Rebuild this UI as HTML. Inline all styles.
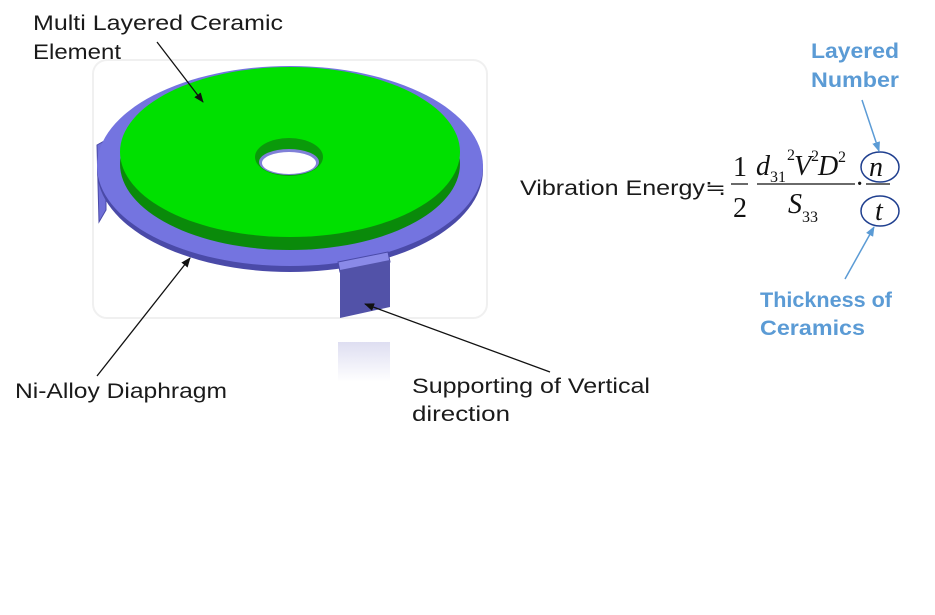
<!DOCTYPE html>
<html><head><meta charset="utf-8"><style>
html,body{margin:0;padding:0;background:#fff;}
svg{display:block;}
.t{font-family:"Liberation Sans",sans-serif;font-size:21px;fill:#1a1a1a;}
.b{font-family:"Liberation Sans",sans-serif;font-size:21px;font-weight:bold;fill:#5b9bd5;}
.m{font-family:"Liberation Serif",serif;font-size:28px;fill:#111;}
.i{font-style:italic;}
.s{font-family:"Liberation Serif",serif;font-size:16px;fill:#111;}
</style></head><body>
<svg width="935" height="615" viewBox="0 0 935 615" xmlns="http://www.w3.org/2000/svg">
<defs>
<marker id="ar" markerWidth="10" markerHeight="8" refX="9" refY="4" orient="auto" markerUnits="userSpaceOnUse"><path d="M0,0 L10,4 L0,8 z" fill="#111"/></marker>
<marker id="ab" markerWidth="10" markerHeight="8" refX="9" refY="4" orient="auto" markerUnits="userSpaceOnUse"><path d="M0,0 L10,4 L0,8 z" fill="#5b9bd5"/></marker>
<linearGradient id="rf" x1="0" y1="0" x2="0" y2="1"><stop offset="0" stop-color="#c8c8e8"/><stop offset="1" stop-color="#fff"/></linearGradient>
</defs>
<rect x="93" y="60" width="394" height="258" rx="14" fill="#fff" stroke="#f0f0f0" stroke-width="2"/>
<rect x="338" y="342" width="52" height="40" fill="url(#rf)" opacity="0.6"/>
<path d="M97,145 L106,140 L106,210 L99,222 Z" fill="#6f6fd8" stroke="#4a4aa8"/>
<ellipse cx="290" cy="170" rx="193" ry="102" fill="#4a4aa8"/>
<ellipse cx="290" cy="166" rx="193" ry="100" fill="#7474e0"/>
<ellipse cx="290" cy="164" rx="170" ry="86" fill="#0a8a0a"/>
<ellipse cx="290" cy="152" rx="170" ry="85" fill="#00e000"/>
<ellipse cx="289" cy="157" rx="34" ry="19" fill="#0a9a0a"/>
<ellipse cx="289" cy="162" rx="30" ry="13" fill="#8080d8"/>
<ellipse cx="289" cy="163" rx="27" ry="11" fill="#fff"/>
<path d="M338,262 L388,252 L390,262 L340,272 Z" fill="#8a8ae8" stroke="#4a4aa8"/>
<path d="M340,270 L390,260 L390,307 L340,318 Z" fill="#5252a8"/>
<text class="t" x="33" y="30" textLength="250" lengthAdjust="spacingAndGlyphs">Multi Layered Ceramic</text>
<text class="t" x="33" y="59" textLength="88" lengthAdjust="spacingAndGlyphs">Element</text>
<line x1="157" y1="42" x2="203" y2="102" stroke="#111" stroke-width="1.3" marker-end="url(#ar)"/>
<text class="t" x="15" y="398" textLength="212" lengthAdjust="spacingAndGlyphs">Ni-Alloy Diaphragm</text>
<line x1="97" y1="376" x2="190" y2="258" stroke="#111" stroke-width="1.3" marker-end="url(#ar)"/>
<text class="t" x="412" y="393" textLength="238" lengthAdjust="spacingAndGlyphs">Supporting of Vertical</text>
<text class="t" x="412" y="421" textLength="98" lengthAdjust="spacingAndGlyphs">direction</text>
<line x1="550" y1="372" x2="365" y2="304" stroke="#111" stroke-width="1.3" marker-end="url(#ar)"/>
<text class="t" x="520" y="195" textLength="206" lengthAdjust="spacingAndGlyphs">Vibration Energy≒</text>
<text class="m" x="733" y="176">1</text>
<line x1="731" y1="184" x2="748" y2="184" stroke="#111" stroke-width="1.2"/>
<text class="m" x="733" y="217">2</text>
<text class="m i" x="756" y="175">d</text><text class="s" x="770" y="182">31</text>
<text class="s" x="787" y="160">2</text><text class="m i" x="794" y="175">V</text>
<text class="s" x="811" y="161">2</text><text class="m i" x="818" y="175">D</text><text class="s" x="838" y="162">2</text>
<line x1="757" y1="184" x2="855" y2="184" stroke="#111" stroke-width="1.2"/>
<text class="m i" x="788" y="213">S</text><text class="s" x="802" y="222">33</text>
<text class="m" x="855" y="193">·</text>
<line x1="866" y1="184" x2="890" y2="184" stroke="#111" stroke-width="1.2"/>
<ellipse cx="880" cy="167" rx="19" ry="15" fill="none" stroke="#1f3f8f" stroke-width="1.5"/>
<text class="m i" x="869" y="176">n</text>
<ellipse cx="880" cy="211" rx="19" ry="15" fill="none" stroke="#1f3f8f" stroke-width="1.5"/>
<text class="m i" x="875" y="220">t</text>
<text class="b" x="811" y="58" textLength="88" lengthAdjust="spacingAndGlyphs">Layered</text>
<text class="b" x="811" y="87" textLength="88" lengthAdjust="spacingAndGlyphs">Number</text>
<line x1="862" y1="100" x2="879" y2="151" stroke="#5b9bd5" stroke-width="1.5" marker-end="url(#ab)"/>
<text class="b" x="760" y="307" textLength="132" lengthAdjust="spacingAndGlyphs">Thickness of</text>
<text class="b" x="760" y="335" textLength="105" lengthAdjust="spacingAndGlyphs">Ceramics</text>
<line x1="845" y1="279" x2="874" y2="227" stroke="#5b9bd5" stroke-width="1.5" marker-end="url(#ab)"/>
</svg>
</body></html>
